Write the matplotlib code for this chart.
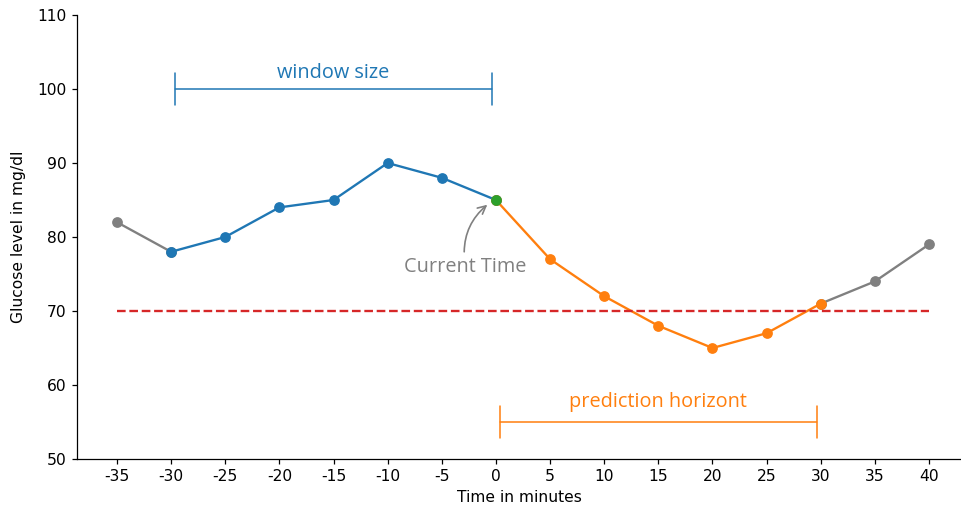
import matplotlib
matplotlib.use("Agg")
import matplotlib.pyplot as plt

# data
pre_x = [-35, -30]
pre_y = [82, 78]
win_x = [-30, -25, -20, -15, -10, -5, 0]
win_y = [78, 80, 84, 85, 90, 88, 85]
hor_x = [0, 5, 10, 15, 20, 25, 30]
hor_y = [85, 77, 72, 68, 65, 67, 71]
post_x = [30, 35, 40]
post_y = [71, 74, 79]
cur_x = [0]
cur_y = [85]
threshold = 70
thr_x = [-35, 40]
xticks = list(range(-35, 45, 5))
xticklabels = [str(t) for t in xticks]
yticks = list(range(50, 120, 10))

s = 1.12
plt.rcParams.update({
    'font.size': 10 * s,
    'lines.linewidth': 1.5 * s,
    'lines.markersize': 6 * s,
    'xtick.major.size': 3.5 * s,
    'ytick.major.size': 3.5 * s,
    'xtick.major.width': 0.8 * s,
    'ytick.major.width': 0.8 * s,
    'axes.linewidth': 0.8 * s,
})

fig = plt.figure(figsize=(9.61, 5.11), dpi=100)
ax = fig.add_axes([77/961, 1 - 459/511, 1 - 77/961, (459 - 15)/511])

ax.plot(pre_x, pre_y, '-o', color='grey')
ax.plot(post_x, post_y, '-o', color='grey')
ax.plot(win_x, win_y, '-o', color='tab:blue')
ax.plot(hor_x, hor_y, '-o', color='tab:orange')
ax.plot(cur_x, cur_y, 'o', color='tab:green')
ax.plot(thr_x, [threshold, threshold], '--', color='tab:red')

afont = 'Open Sans'
afs = 14.3
ax.annotate('', xy=(-30, 100), xytext=(0, 100),
            arrowprops=dict(arrowstyle='|-|,widthA=0.45,widthB=0.45', color='tab:blue',
                            mutation_scale=25, shrinkA=3, shrinkB=3, lw=1.1))
ax.text(-15, 100.8, 'window size', color='tab:blue', ha='center', va='bottom',
        fontsize=afs, family=afont)
ax.annotate('', xy=(0, 55), xytext=(30, 55),
            arrowprops=dict(arrowstyle='|-|,widthA=0.45,widthB=0.45', color='tab:orange',
                            mutation_scale=25, shrinkA=3, shrinkB=3, lw=1.1))
ax.text(15, 56.4, 'prediction horizont', color='tab:orange', ha='center', va='bottom',
        fontsize=afs, family=afont)
ax.annotate('Current Time', xy=(-0.6, 84.6), xytext=(-2.8, 75.9),
            ha='center', va='center', color='grey', fontsize=afs, family=afont,
            arrowprops=dict(arrowstyle='->', color='grey', connectionstyle='arc3,rad=-0.3',
                            shrinkA=2, shrinkB=2, lw=1.2))

ax.set_xlim(-38.69, 42.95)
ax.set_ylim(50, 110)
ax.set_xticks(xticks)
ax.set_xticklabels(xticklabels)
ax.set_yticks(yticks)
ax.set_xlabel('Time in minutes')
ax.set_ylabel('Glucose level in mg/dl', labelpad=8)
ax.spines['top'].set_visible(False)
ax.spines['right'].set_visible(False)

fig.savefig('out.png', dpi=100)
